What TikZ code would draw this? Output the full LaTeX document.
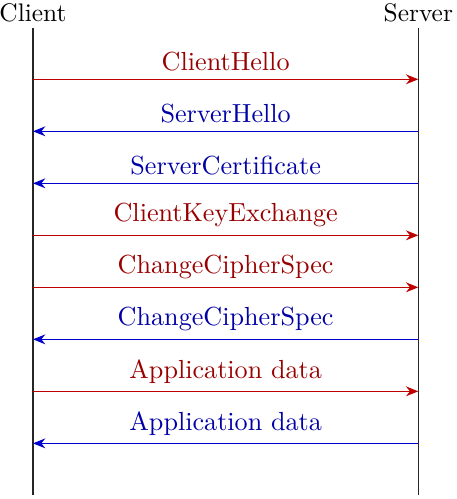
\documentclass[tikz,border=0pt]{standalone}
\usetikzlibrary{arrows.meta}
\tikzset{
  life/.style={draw=black!85, line width=0.5pt},
  tosrv/.style={-{Stealth[length=5pt, width=4pt]}, line width=0.55pt, draw=red!75!black, text=red!60!black},
  tocli/.style={-{Stealth[length=5pt, width=4pt]}, line width=0.55pt, draw=blue!80!black, text=blue!65!black},
  msg/.style={above, inner sep=3pt, font=\fontsize{10.6}{13}\selectfont},
  part/.style={anchor=north, inner sep=0pt, font=\fontsize{10.3}{12}\selectfont},
}
\begin{document}
\begin{tikzpicture}
  \useasboundingbox (0,0) rectangle (6.5,-7.11);
  % participants
  \node[part] (cli) at (0.47,-0.04) {Client};
  \node[part] (srv) at (5.96,-0.04) {Server};
  \coordinate (cli-top) at (0.47,-0.40);
  \coordinate (cli-bot) at (0.47,-7.05);
  \coordinate (srv-top) at (5.96,-0.40);
  \coordinate (srv-bot) at (5.96,-7.05);
  \draw[life] (cli-top) -- (cli-bot);
  \draw[life] (srv-top) -- (srv-bot);
  % messages
  \foreach \i/\m/\s/\a/\b in {1/ClientHello/tosrv/c/s, 2/ServerHello/tocli/s/c,
      3/ServerCertificate/tocli/s/c, 4/ClientKeyExchange/tosrv/c/s,
      5/ChangeCipherSpec/tosrv/c/s, 6/ChangeCipherSpec/tocli/s/c,
      7/Application data/tosrv/c/s, 8/Application data/tocli/s/c} {
    \coordinate (c\i) at (0.47, {-1.13-(\i-1)*0.741});
    \coordinate (s\i) at (5.96, {-1.13-(\i-1)*0.741});
    \draw[\s] (\a\i) -- node[msg] {\m} (\b\i);
  }
\end{tikzpicture}
\end{document}
